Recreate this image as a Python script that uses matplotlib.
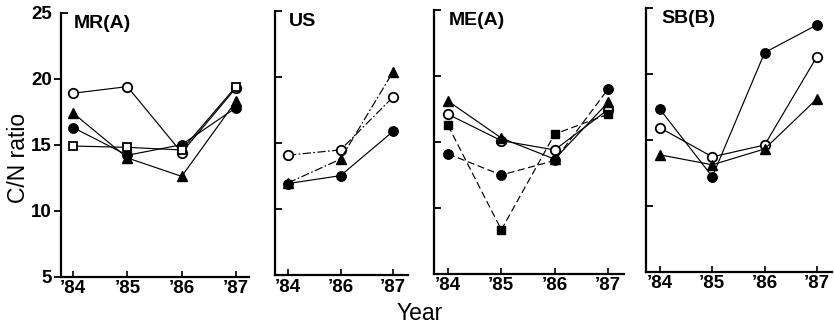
import matplotlib
matplotlib.use("Agg")
import matplotlib.pyplot as plt

# --- data -------------------------------------------------------------
years_full = ["\u201984", "\u201985", "\u201986", "\u201987"]
years_us = ["\u201984", "\u201986", "\u201987"]

mr_open_circle = [18.9, 19.4, 14.4, 19.3]
mr_filled_circle = [16.3, 14.2, 15.0, 17.8]
mr_triangle = [17.4, 14.0, 12.6, 18.3]
mr_open_square = [14.9, 14.8, 14.6, 19.4]

us_open_circle = [14.1, 14.5, 18.5]
us_filled_circle = [11.95, 12.55, 15.9]
us_triangle = [12.0, 13.8, 20.4]

me_open_circle = [17.1, 15.1, 14.4, 17.45]
me_filled_circle = [14.1, 12.5, 13.6, 19.0]
me_triangle = [18.1, 15.3, 13.7, 18.0]
me_filled_square = [16.25, 8.35, 15.6, 17.1]

sb_open_circle = [15.9, 13.7, 14.6, 21.3]
sb_filled_circle = [17.3, 12.2, 21.6, 23.7]
sb_triangle = [13.85, 13.1, 14.3, 18.1]

panel_titles = ["MR(A)", "US", "ME(A)", "SB(B)"]
y_ticks = [5, 10, 15, 20, 25]

# --- styling ----------------------------------------------------------
NARROW = ["Liberation Sans Narrow", "Liberation Sans", "DejaVu Sans"]
plt.rcParams["font.family"] = ["Liberation Sans", "DejaVu Sans"]

W, H = 834, 326
fig = plt.figure(figsize=(W / 100, H / 100), dpi=100)

# panel frames in pixels: (left spine x, right end x, bottom y)
frames = [(61, 249, 276.7), (275, 408, 275.3), (434, 624, 274.0), (646, 832, 271.7)]
axis_h = 264.0
# x-limits (in category units) of each panel
xlims = [(-0.222, 3.24), (-0.248, 2.286), (-0.2625, 3.3), (-0.2675, 3.287)]

OPEN_C = dict(marker="o", mfc="white", mec="black", ms=6.8, mew=1.3)
FILL_C = dict(marker="o", mfc="black", mec="black", ms=6.8, mew=1.0)
TRI = dict(marker="^", mfc="black", mec="black", ms=7.2, mew=1.0)
OPEN_S = dict(marker="s", mfc="white", mec="black", ms=6.3, mew=1.3)
FILL_S = dict(marker="s", mfc="black", mec="black", ms=6.3, mew=1.0)

LW = 0.85
dashdot = (0, (7, 2, 1.5, 2))
dashed = (0, (6, 3))

panels = [
    (years_full, [(mr_open_circle, OPEN_C, "-"), (mr_filled_circle, FILL_C, "-"),
                  (mr_triangle, TRI, "-"), (mr_open_square, OPEN_S, "-")]),
    (years_us, [(us_open_circle, OPEN_C, dashdot), (us_triangle, TRI, dashdot),
                (us_filled_circle, FILL_C, "-")]),
    (years_full, [(me_open_circle, OPEN_C, "-"), (me_triangle, TRI, "-"),
                  (me_filled_circle, FILL_C, dashed), (me_filled_square, FILL_S, dashed)]),
    (years_full, [(sb_filled_circle, FILL_C, "-"), (sb_open_circle, OPEN_C, "-"),
                  (sb_triangle, TRI, "-")]),
]

for i, ((left, right, bottom), xl, (labels, series), title) in enumerate(
        zip(frames, xlims, panels, panel_titles)):
    ax = fig.add_axes([left / W, (H - bottom) / H, (right - left) / W, axis_h / H])
    xs = list(range(len(labels)))
    for vals, mk, ls in series:
        ax.plot(xs, vals, color="black", lw=LW, ls=ls, zorder=3, clip_on=False, **mk)

    ax.set_xlim(*xl)
    ax.set_ylim(5, 25)
    for s in ("top", "right"):
        ax.spines[s].set_visible(False)
    for s in ("left", "bottom"):
        ax.spines[s].set_linewidth(1.6)

    ax.set_xticks(xs)
    ax.set_xticklabels(labels)
    ax.tick_params(axis="x", direction="in", length=4, width=1.2, pad=2.5,
                   labelsize=13.5)
    for t in ax.get_xticklabels():
        t.set_fontweight("bold")

    if i == 0:
        ax.set_yticks(y_ticks[:-1])
        ax.set_yticklabels([str(v) for v in y_ticks[:-1]])
        ax.tick_params(axis="y", direction="out", length=5, width=1.3, pad=1.5,
                       labelsize=13.5)
        for t in ax.get_yticklabels():
            t.set_fontweight("bold")
        # top cap of the y axis, labelled 25
        ax.set_yticks([25], minor=True)
        ax.set_yticklabels(["25"], minor=True)
        ax.tick_params(axis="y", which="minor", direction="in", length=5, width=1.3,
                       pad=6.5, labelsize=13.5)
        for t in ax.get_yticklabels(minor=True):
            t.set_fontweight("bold")
    else:
        ax.set_yticks(y_ticks[1:])
        ax.tick_params(axis="y", direction="in", length=5, width=1.3, labelleft=False)

    ax.text(xs[0] + 0.02, 24.85, title, ha="left", va="top", fontsize=14,
            fontweight="bold", family=NARROW)

fig.text(19 / W, 1 - 157.5 / H, "C/N ratio", rotation=90, ha="center", va="center",
         fontsize=16.5)
fig.text(420 / W, 1 - 313 / H, "Year", ha="center", va="center", fontsize=16.5)

fig.savefig("out.png", dpi=100, facecolor="white")
